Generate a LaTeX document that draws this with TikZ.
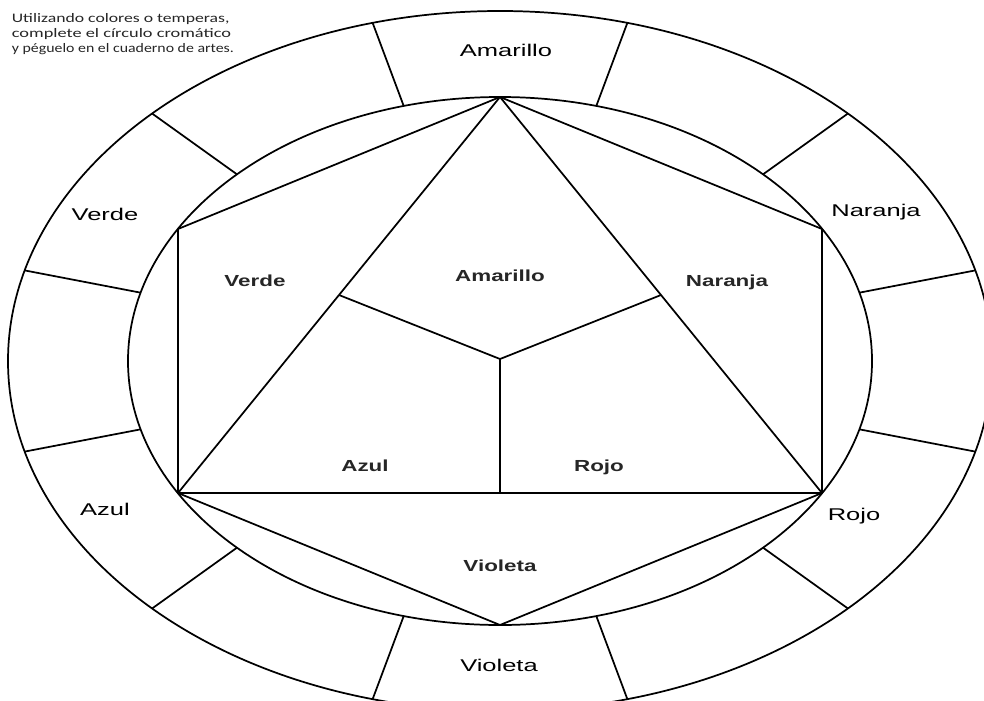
\documentclass[tikz,border=0pt]{standalone}
\usepackage{fontspec}
\setmainfont{Liberation Sans}
\newfontfamily\calib{Carlito}
\begin{document}
\begin{tikzpicture}[x=0.75pt,y=-0.75pt, line width=1.3pt, line join=round,
  outerlbl/.style={font=\fontsize{12.75}{14}\selectfont, anchor=base, inner sep=0pt},
  innerlbl/.style={font=\bfseries\fontsize{12}{14}\selectfont, anchor=base, inner sep=0pt, text=black!85},
  notelbl/.style={font=\calib\fontsize{9.75}{11}\selectfont, anchor=base west, inner sep=0pt, text=black!85}]
\useasboundingbox (0,0) rectangle (984,700);
\fill[white] (0,0) rectangle (984,700);
% outer ring
\begin{scope}
\clip (0,0) rectangle (984,700);
\draw (500,361) ellipse [x radius=369pt, y radius=262.5pt];
\foreach \a in {15,45,...,345}
  \draw ({500+372*cos(\a)},{361-264*sin(\a)}) -- ({500+492*cos(\a)},{361-350*sin(\a)});
\end{scope}
\draw (500,361) ellipse [x radius=279pt, y radius=198pt];
% hexagon and triangle
\coordinate (T) at (500,97);
\coordinate (UL) at (178,229);
\coordinate (UR) at (822,229);
\coordinate (LL) at (178,493);
\coordinate (LR) at (822,493);
\coordinate (B) at (500,625);
\coordinate (C) at (500,359);
\coordinate (ML) at (339,295);
\coordinate (MR) at (661,295);
\coordinate (MB) at (500,493);
\draw (T) -- (UL) -- (LL) -- (B) -- (LR) -- (UR) -- cycle;
\draw (T) -- (LL) -- (LR) -- cycle;
\draw (ML) -- (C) -- (MR);
\draw (C) -- (MB);
% outer labels
\node[outerlbl] (oam) at (506,56) {\scalebox{1.5}[1]{Amarillo}};
\node[outerlbl] (ona) at (876,216) {\scalebox{1.5}[1]{Naranja}};
\node[outerlbl] (oro) at (854,520) {\scalebox{1.5}[1]{Rojo}};
\node[outerlbl] (ovi) at (499,671) {\scalebox{1.5}[1]{Violeta}};
\node[outerlbl] (oaz) at (105,515) {\scalebox{1.5}[1]{Azul}};
\node[outerlbl] (ove) at (105,220) {\scalebox{1.5}[1]{Verde}};
% inner labels
\node[innerlbl] (iam) at (500,281) {\scalebox{1.4}[1]{Amarillo}};
\node[innerlbl] (ive) at (255,286) {\scalebox{1.4}[1]{Verde}};
\node[innerlbl] (ina) at (727,286) {\scalebox{1.4}[1]{Naranja}};
\node[innerlbl] (iaz) at (365,471) {\scalebox{1.4}[1]{Azul}};
\node[innerlbl] (iro) at (599,471) {\scalebox{1.4}[1]{Rojo}};
\node[innerlbl] (ivi) at (500,571) {\scalebox{1.4}[1]{Violeta}};
% instructions
\node[notelbl] (n1) at (11,22) {\scalebox{1.36}[1]{Utilizando colores o temperas,}};
\node[notelbl] (n2) at (11,37) {\scalebox{1.41}[1]{complete el círculo cromático}};
\node[notelbl] (n3) at (11,52) {\scalebox{1.22}[1]{y péguelo en el cuaderno de artes.}};
\end{tikzpicture}
\end{document}
